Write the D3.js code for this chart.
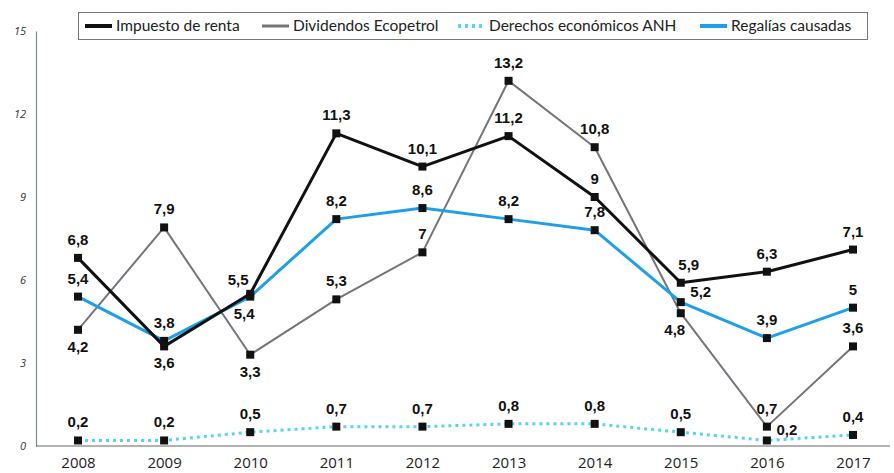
<!DOCTYPE html>
<html>
<head>
<meta charset="utf-8">
<script src="https://cdn.jsdelivr.net/npm/d3@7"></script>
<style>
  body { margin: 0; background: #fff; }
  svg { display: block; }
  .lbl { font-family: "Liberation Sans", Arial, sans-serif; font-weight: bold; font-size: 15px; fill: #111; }
  .legend text { font-family: Lato, "Open Sans", sans-serif; font-size: 15.5px; fill: #222; }
</style>
</head>
<body>
<div id="chart"></div>
<script>
const width = 894;
const height = 473;

const years = [2008, 2009, 2010, 2011, 2012, 2013, 2014, 2015, 2016, 2017];
const yTicks = [0, 3, 6, 9, 12, 15];

const impuestoRenta = [6.8, 3.6, 5.5, 11.3, 10.1, 11.2, 9, 5.9, 6.3, 7.1];
const dividendosEcopetrol = [4.2, 7.9, 3.3, 5.3, 7, 13.2, 10.8, 4.8, 0.7, 3.6];
const derechosANH = [0.2, 0.2, 0.5, 0.7, 0.7, 0.8, 0.8, 0.5, 0.2, 0.4];
const regalias = [5.4, 3.8, 5.4, 8.2, 8.6, 8.2, 7.8, 5.2, 3.9, 5];

// where each value label goes: a = above, b = below, al/ar/bl = shifted, r = right
const impuestoPos = ['a', 'b', 'al', 'a', 'a', 'a', 'a', 'ar', 'a', 'a'];
const dividendosPos = ['b', 'a', 'b', 'a', 'a', 'a', 'a', 'bl', 'a', 'a'];
const anhPos = ['a', 'a', 'a', 'a', 'a', 'a', 'a', 'a', 'r', 'a'];
const regaliasPos = ['a', 'a', 'bl', 'a', 'a', 'a', 'a', 'r', 'a', 'a'];

const series = [
    { name: 'Impuesto de renta', values: impuestoRenta, pos: impuestoPos, color: '#111', width: 3, dash: null, legendX: 85 },
    { name: 'Dividendos Ecopetrol', values: dividendosEcopetrol, pos: dividendosPos, color: '#74747c', width: 2, dash: null, legendX: 262 },
    { name: 'Derechos económicos ANH', values: derechosANH, pos: anhPos, color: '#5ad2f2', width: 3, dash: '3,4', legendX: 458 },
    { name: 'Regalías causadas', values: regalias, pos: regaliasPos, color: '#1f9fe6', width: 3, dash: null, legendX: 700 }
];

const offsets = {
    a: [0, -13],
    b: [0, 22],
    al: [-12, -9],
    ar: [8, -13],
    bl: [-6, 22],
    r: [20, -5]
};

const svg = d3.select('#chart')
    .append('svg')
    .attr('width', width)
    .attr('height', height);

const x = d3.scalePoint().domain(years).range([78, 853]);
const y = d3.scaleLinear().domain([0, 15]).range([446, 31]);

// y axis
const yAxis = svg.append('g')
    .attr('transform', 'translate(36,0)')
    .call(d3.axisLeft(y).tickValues(yTicks).tickSize(0).tickPadding(10));
yAxis.select('.domain').attr('stroke', '#7a8a9a').attr('stroke-width', 1.2);
yAxis.selectAll('text')
    .style('font-family', '"Open Sans", sans-serif')
    .style('font-style', 'italic')
    .style('font-size', '11px')
    .attr('fill', '#333');

// x axis
const xAxis = svg.append('g')
    .attr('transform', `translate(0,${y(0)})`)
    .call(d3.axisBottom(x).tickSize(0).tickPadding(11));
xAxis.select('.domain').remove();
xAxis.append('line')
    .attr('x1', 36)
    .attr('x2', 890)
    .attr('stroke', '#666')
    .attr('stroke-width', 1.2);
xAxis.selectAll('text')
    .style('font-family', '"Open Sans", sans-serif')
    .style('font-size', '15px')
    .attr('fill', '#222');

const line = d3.line()
    .x((d, i) => x(years[i]))
    .y(d => y(d));

// lines, drawn so that the thin gray line sits under the others
const drawOrder = [1, 2, 3, 0];
drawOrder.forEach(k => {
    const s = series[k];
    svg.append('path')
        .datum(s.values)
        .attr('fill', 'none')
        .attr('stroke', s.color)
        .attr('stroke-width', s.width)
        .attr('stroke-dasharray', s.dash)
        .attr('stroke-linejoin', 'round')
        .attr('d', line);
});

// markers and labels
series.forEach(s => {
    const g = svg.append('g');
    g.selectAll('rect')
        .data(s.values)
        .enter()
        .append('rect')
        .attr('x', (d, i) => x(years[i]) - 4)
        .attr('y', d => y(d) - 4)
        .attr('width', 8)
        .attr('height', 8)
        .attr('fill', '#111');

    g.selectAll('text')
        .data(s.values)
        .enter()
        .append('text')
        .attr('class', 'lbl')
        .attr('text-anchor', 'middle')
        .attr('x', (d, i) => x(years[i]) + offsets[s.pos[i]][0])
        .attr('y', (d, i) => y(d) + offsets[s.pos[i]][1])
        .text(d => String(d).replace('.', ','));
});

// legend
const legend = svg.append('g').attr('class', 'legend');
legend.append('rect')
    .attr('x', 78.5)
    .attr('y', 12.5)
    .attr('width', 789)
    .attr('height', 27)
    .attr('fill', '#fff')
    .attr('stroke', '#777')
    .attr('stroke-width', 1);

series.forEach(s => {
    legend.append('line')
        .attr('x1', s.legendX)
        .attr('x2', s.legendX + 27)
        .attr('y1', 26)
        .attr('y2', 26)
        .attr('stroke', s.color)
        .attr('stroke-width', s.width + 1)
        .attr('stroke-dasharray', s.dash);
    legend.append('text')
        .attr('x', s.legendX + 31)
        .attr('y', 31)
        .text(s.name);
});
</script>
</body>
</html>
